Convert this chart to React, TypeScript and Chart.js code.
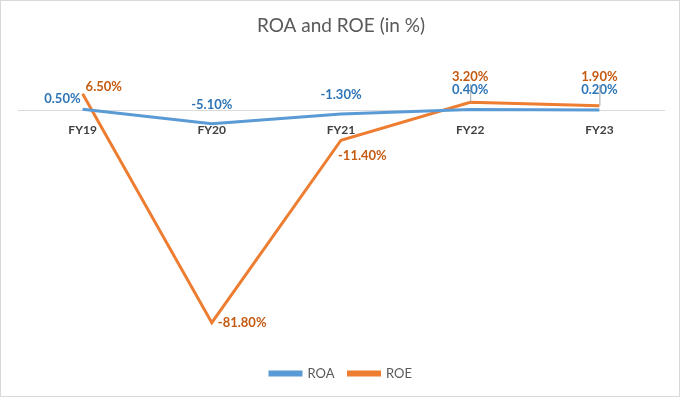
import React, { useEffect, useRef } from "react";
import { Chart, registerables } from "chart.js";

Chart.register(...registerables);

const categories = ["FY19", "FY20", "FY21", "FY22", "FY23"];
const roa = [0.5, -5.1, -1.3, 0.4, 0.2];
const roe = [6.5, -81.8, -11.4, 3.2, 1.9];

// label placement (pixel offsets relative to point), style config
const roaLabelPos = [
  { dx: -2, dy: -11, align: "right" },
  { dx: 0, dy: -19, align: "center" },
  { dx: 0, dy: -19, align: "center" },
  { dx: 0, dy: -20, align: "center" },
  { dx: 0, dy: -20, align: "center" },
];
const roeLabelPos = [
  { dx: 3, dy: -7, align: "left", leader: false },
  { dx: 6, dy: 0, align: "left", leader: false },
  { dx: -3, dy: 16, align: "left", leader: false },
  { dx: 0, dy: -26, align: "center", leader: true },
  { dx: 0, dy: -29, align: "center", leader: true },
];

const FONT = "Lato, 'Open Sans', sans-serif";

const labelPlugin = {
  id: "valueLabels",
  afterDatasetsDraw(chart: any) {
    const ctx = chart.ctx;
    const configs = [
      { pos: roaLabelPos, color: "#2E75B6", values: roa },
      { pos: roeLabelPos, color: "#C55A11", values: roe },
    ];
    ctx.save();
    configs.forEach((cfg, di) => {
      const meta = chart.getDatasetMeta(di);
      meta.data.forEach((pt: any, j: number) => {
        const p: any = cfg.pos[j];
        const x = pt.x + p.dx;
        const y = pt.y + p.dy;
        if (p.leader) {
          ctx.strokeStyle = "#A6A6A6";
          ctx.lineWidth = 1;
          ctx.beginPath();
          ctx.moveTo(pt.x + 0.5, y + 8);
          ctx.lineTo(pt.x + 0.5, pt.y);
          ctx.stroke();
        }
        ctx.font = `bold 13px ${FONT}`;
        ctx.fillStyle = cfg.color;
        ctx.textAlign = p.align;
        ctx.textBaseline = "middle";
        ctx.fillText(cfg.values[j].toFixed(2) + "%", x, y);
      });
    });
    ctx.restore();
  },
};

export default function App() {
  const ref = useRef<HTMLCanvasElement>(null);
  useEffect(() => {
    const chart = new Chart(ref.current!, {
      type: "line",
      data: {
        labels: categories,
        datasets: [
          {
            label: "ROA",
            data: roa,
            borderColor: "#5B9BD5",
            backgroundColor: "#5B9BD5",
            borderWidth: 3,
            pointRadius: 0,
            tension: 0,
          },
          {
            label: "ROE",
            data: roe,
            borderColor: "#ED7D31",
            backgroundColor: "#ED7D31",
            borderWidth: 3,
            pointRadius: 0,
            tension: 0,
          },
        ],
      },
      options: {
        animation: false,
        responsive: false,
        maintainAspectRatio: false,
        layout: { padding: { left: 17, right: 15, top: 0, bottom: 6 } },
        plugins: {
          title: {
            display: true,
            text: "ROA and ROE (in %)",
            color: "#595959",
            font: { family: FONT, size: 19, weight: "normal" },
            padding: { top: 13, bottom: 22 },
          },
          legend: {
            position: "bottom",
            labels: {
              color: "#595959",
              font: { family: FONT, size: 13 },
              boxWidth: 31,
              boxHeight: 3,
              padding: 14,
            },
          },
          tooltip: { enabled: false },
        },
        scales: {
          x: {
            position: { y: 0 } as any,
            offset: true,
            grid: { display: false, drawTicks: false },
            border: { display: true, color: "#D9D9D9", width: 1 },
            ticks: {
              color: "#404040",
              font: { family: FONT, size: 12, weight: "bold" },
              padding: 12,
            },
          },
          y: {
            display: false,
            min: -93.5,
            max: 20,
          },
        },
      },
      plugins: [labelPlugin],
    });
    return () => chart.destroy();
  }, []);
  return (
    <div
      style={{
        position: "fixed",
        left: 0,
        top: 0,
        width: 680,
        height: 397,
        border: "1px solid #D9D9D9",
        boxSizing: "border-box",
        background: "#fff",
      }}
    >
      <canvas ref={ref} width={678} height={395} style={{ display: "block" }} />
    </div>
  );
}
